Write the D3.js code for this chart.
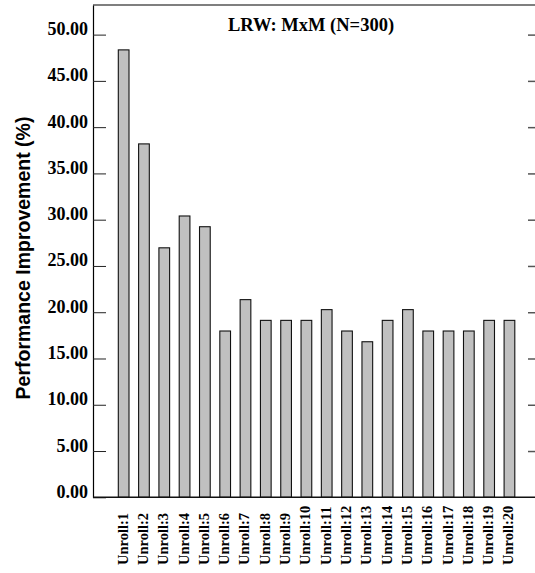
<!DOCTYPE html>
<html>
<head>
<meta charset="utf-8">
<script src="https://cdn.jsdelivr.net/npm/d3@7"></script>
<style>
  html, body { margin: 0; padding: 0; background: #fff; }
  svg { display: block; }
</style>
</head>
<body>
<svg id="chart" width="535" height="573"></svg>
<script>
// Unroll factors and measured improvement for the LRW matrix multiply (N=300)
const categories = ["Unroll:1","Unroll:2","Unroll:3","Unroll:4","Unroll:5","Unroll:6","Unroll:7",
  "Unroll:8","Unroll:9","Unroll:10","Unroll:11","Unroll:12","Unroll:13","Unroll:14",
  "Unroll:15","Unroll:16","Unroll:17","Unroll:18","Unroll:19","Unroll:20"];
const improvement = [48.35, 38.19, 26.96, 30.40, 29.24, 17.97, 21.36, 19.12, 19.12, 19.12,
  20.28, 17.97, 16.81, 19.12, 20.28, 17.97, 17.97, 17.97, 19.12, 19.12];
const yTicks = [0, 5, 10, 15, 20, 25, 30, 35, 40, 45, 50];
const yMax = 53.2;
const chartTitle = "LRW: MxM (N=300)";
const yTitle = "Performance Improvement (%)";

const svg = d3.select("#chart");
const serif = "'Liberation Serif', 'Times New Roman', Times, serif";
const sans = "'Liberation Sans', Arial, Helvetica, sans-serif";

const plotLeft = 93, plotRight = 535, plotTop = 5, plotBottom = 497.3;

const x = d3.scaleBand()
  .domain(categories)
  .range([113.5, 519.6])
  .paddingInner(0.473)
  .paddingOuter(0.2365);

const y = d3.scaleLinear().domain([0, yMax]).range([plotBottom, plotTop]);

// bars
svg.append("g")
  .selectAll("rect")
  .data(improvement)
  .join("rect")
  .attr("x", (d, i) => x(categories[i]))
  .attr("y", d => y(d))
  .attr("width", x.bandwidth())
  .attr("height", d => y(0) - y(d))
  .attr("fill", "#c0c0c0")
  .attr("stroke", "#111")
  .attr("stroke-width", 1.1);

// left axis: frame line, inward ticks, labels sitting on the tick lines
const yAxis = svg.append("g")
  .attr("transform", `translate(${plotLeft},0)`)
  .call(d3.axisLeft(y).tickValues(yTicks).tickFormat(d3.format(".2f"))
    .tickSizeInner(-13).tickSizeOuter(0).tickPadding(5));
yAxis.select(".domain").attr("stroke", "#000").attr("stroke-width", 1.2);
yAxis.selectAll(".tick line").attr("stroke", "#222").attr("stroke-width", 1);
yAxis.selectAll(".tick text")
  .attr("dy", "0")
  .attr("font-family", serif)
  .attr("font-weight", "bold")
  .attr("font-size", 18)
  .attr("fill", "#000");

// right-side ticks
const yAxisR = svg.append("g")
  .attr("transform", `translate(${plotRight},0)`)
  .call(d3.axisRight(y).tickValues(yTicks.filter(d => d > 0)).tickFormat("")
    .tickSizeInner(-7).tickSizeOuter(0));
yAxisR.select(".domain").remove();
yAxisR.selectAll(".tick line").attr("stroke", "#555").attr("stroke-width", 1.5);

// top border and baseline
svg.append("line")
  .attr("x1", plotLeft).attr("x2", plotRight).attr("y1", plotTop).attr("y2", plotTop)
  .attr("stroke", "#000").attr("stroke-width", 1.2);
svg.append("line")
  .attr("x1", plotLeft).attr("x2", plotRight).attr("y1", y(0)).attr("y2", y(0))
  .attr("stroke", "#111").attr("stroke-width", 1.6);

// category labels, rotated
const xAxis = svg.append("g")
  .attr("transform", `translate(0,${plotBottom})`)
  .call(d3.axisBottom(x).tickSize(0));
xAxis.select(".domain").remove();
xAxis.selectAll(".tick text")
  .attr("transform", "rotate(-90)")
  .attr("text-anchor", "start")
  .attr("x", -67.7)
  .attr("y", 4)
  .attr("dy", "0")
  .attr("font-family", serif)
  .attr("font-weight", "bold")
  .attr("font-size", 14.5)
  .attr("fill", "#000");

// title
svg.append("text")
  .attr("x", 311).attr("y", 30.7)
  .attr("text-anchor", "middle")
  .attr("font-family", serif)
  .attr("font-weight", "bold")
  .attr("font-size", 18.5)
  .text(chartTitle);

// y-axis title
svg.append("text")
  .attr("transform", "translate(30,258) rotate(-90)")
  .attr("text-anchor", "middle")
  .attr("font-family", sans)
  .attr("font-weight", "bold")
  .attr("font-size", 19.5)
  .text(yTitle);
</script>
</body>
</html>
